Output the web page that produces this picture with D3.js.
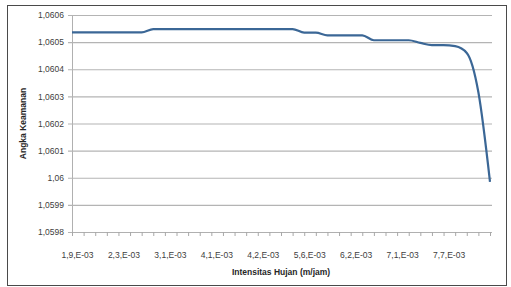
<!DOCTYPE html>
<html>
<head>
<meta charset="utf-8">
<script src="https://cdn.jsdelivr.net/npm/d3@7"></script>
<style>
  html, body { margin: 0; padding: 0; background: #fff; }
  svg { display: block; }
</style>
</head>
<body>
<svg id="chart"></svg>
<script>
// safety factor (Angka Keamanan) per rainfall intensity step
const angkaKeamanan = [
  1.060536, 1.060536, 1.060536, 1.060536, 1.060536, 1.060536, 1.060536,
  1.060548, 1.060548, 1.060548, 1.060548, 1.060548, 1.060548, 1.060548,
  1.060548, 1.060548, 1.060548, 1.060548, 1.060548, 1.060548,
  1.060535, 1.060535,
  1.060525, 1.060525, 1.060525, 1.060525,
  1.060507, 1.060507, 1.060507, 1.060507,
  1.060497,
  1.060489, 1.060489, 1.060485,
  1.060460, 1.060315, 1.059985
]
// only every 4th category label is shown on the axis
const xLabels = ["1,9,E-03", "2,3,E-03", "3,1,E-03", "4,1,E-03", "4,2,E-03",
                 "5,6,E-03", "6,2,E-03", "7,1,E-03", "7,7,E-03"]
const labelStep = 4
const yTicks = [1.0598, 1.0599, 1.06, 1.0601, 1.0602, 1.0603, 1.0604, 1.0605, 1.0606]

const width = 511
const height = 287
const margin = { left: 72, right: 21, top: 15, bottom: 55 }

const svg = d3.select('#chart')
    .attr('width', width)
    .attr('height', height)
    .style('font-family', '"Liberation Sans", Arial, sans-serif')

// outer frame
svg.append('rect')
    .attr('x', 7.5).attr('y', 5.5)
    .attr('width', 499).attr('height', 280)
    .attr('fill', '#fff')
    .attr('stroke', '#4a4a4a')
    .attr('stroke-width', 1)

const x = d3.scalePoint()
    .domain(d3.range(angkaKeamanan.length))
    .range([margin.left, width - margin.right])

const y = d3.scaleLinear()
    .domain([1.0598, 1.0606])
    .range([height - margin.bottom, margin.top])

const locale = d3.formatLocale({ decimal: ',', thousands: '.', grouping: [3], currency: ['', ''] })
const fmt4 = locale.format('.4f')
const yFormat = (d) => fmt4(d).replace(/0+$/, '').replace(/,$/, '')

// y axis with gridlines
const yAxis = d3.axisLeft(y)
    .tickValues(yTicks)
    .tickFormat(yFormat)
    .tickSizeInner(-(width - margin.right - margin.left + 2))
    .tickSizeOuter(0)
    .tickPadding(8)

const gy = svg.append('g')
    .attr('transform', `translate(${margin.left},0)`)
    .call(yAxis)
gy.select('.domain').attr('stroke', '#b0b0b0')
gy.selectAll('.tick line')
    .attr('x1', -4)
    .attr('stroke', '#b4b4b4')
    .attr('stroke-width', 1.2)
gy.selectAll('.tick text')
    .attr('fill', '#404040')
    .style('font-size', '8.5px')

// x axis (category ticks on every point, labels every 4th)
const xAxis = d3.axisBottom(x)
    .tickSizeInner(4)
    .tickSizeOuter(0)
    .tickPadding(16)
    .tickFormat((d) => d % labelStep === 0 ? xLabels[d / labelStep] : '')

const gx = svg.append('g')
    .attr('transform', `translate(0,${height - margin.bottom})`)
    .call(xAxis)
gx.select('.domain').attr('stroke', '#b0b0b0').attr('stroke-width', 1.2)
gx.selectAll('.tick line').attr('stroke', '#a8a8a8')
gx.selectAll('.tick text')
    .attr('fill', '#404040')
    .attr('dx', 5)
    .style('font-size', '8.5px')

// line
const line = d3.line()
    .x((d, i) => x(i))
    .y((d) => y(d))
    .curve(d3.curveMonotoneX)

svg.append('path')
    .datum(angkaKeamanan)
    .attr('fill', 'none')
    .attr('stroke', '#3b6796')
    .attr('stroke-width', 2.2)
    .attr('d', line)

// axis titles
svg.append('text')
    .attr('x', (margin.left + width - margin.right) / 2)
    .attr('y', 275)
    .attr('text-anchor', 'middle')
    .attr('fill', '#262626')
    .style('font-size', '8.5px')
    .style('font-weight', 'bold')
    .text('Intensitas Hujan (m/jam)')

svg.append('text')
    .attr('transform', `translate(26,${(margin.top + height - margin.bottom) / 2}) rotate(-90)`)
    .attr('text-anchor', 'middle')
    .attr('fill', '#262626')
    .style('font-size', '8.5px')
    .style('font-weight', 'bold')
    .text('Angka Keamanan')
</script>
</body>
</html>
